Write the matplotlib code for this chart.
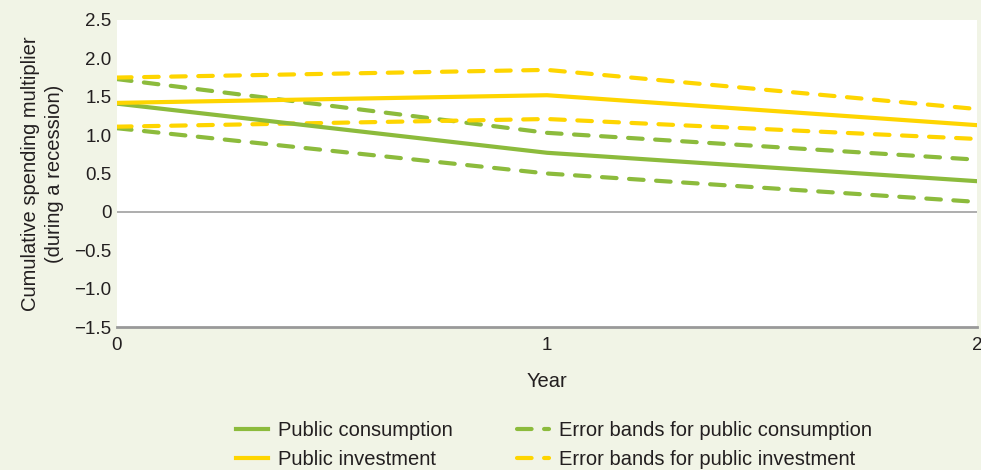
import matplotlib
matplotlib.use("Agg")
import matplotlib.pyplot as plt
import numpy as np

plt.rcParams['font.family'] = ['Liberation Sans', 'DejaVu Sans']

years = [0, 1, 2]
consumption = [1.41, 0.77, 0.40]
consumption_hi = [1.73, 1.03, 0.68]
consumption_lo = [1.09, 0.50, 0.13]
investment = [1.42, 1.52, 1.13]
investment_hi = [1.75, 1.85, 1.34]
investment_lo = [1.11, 1.21, 0.95]

yticks = [-1.5, -1.0, -0.5, 0, 0.5, 1.0, 1.5, 2.0, 2.5]
ytick_labels = ['\u22121.5', '\u22121.0', '\u22120.5', '0', '0.5', '1.0', '1.5', '2.0', '2.5']

GREEN = '#8cbb3c'
YELLOW = '#fed500'
BG = '#f1f4e6'
TEXT = '#231f20'

fig = plt.figure(figsize=(9.81, 4.70), dpi=100, facecolor=BG)
ax = fig.add_axes([117/981, 1 - 327/470, (977-117)/981, (327-20)/470])
ax.set_facecolor('white')

ax.axhline(0, color='#a0a0a0', lw=1.2, zorder=1)
ax.plot(years, consumption, color=GREEN, lw=3, label='Public consumption', zorder=3)
ax.plot(years, investment, color=YELLOW, lw=3, label='Public investment', zorder=3)
dash = (0, (3.5, 3))
ax.plot(years, consumption_hi, color=GREEN, lw=3, ls=dash, dash_capstyle='round',
        label='Error bands for public consumption', zorder=2)
ax.plot(years, consumption_lo, color=GREEN, lw=3, ls=dash, dash_capstyle='round', zorder=2)
ax.plot(years, investment_hi, color=YELLOW, lw=3, ls=dash, dash_capstyle='round',
        label='Error bands for public investment', zorder=2)
ax.plot(years, investment_lo, color=YELLOW, lw=3, ls=dash, dash_capstyle='round', zorder=2)

ax.set_xlim(0, 2)
ax.set_ylim(-1.5, 2.5)
ax.set_yticks(yticks)
ax.set_yticklabels(ytick_labels)
ax.set_xticks(years)
ax.set_xticklabels(['0', '1', '2'])
ax.tick_params(axis='both', length=0, labelsize=13.5, colors=TEXT)
ax.tick_params(axis='y', pad=4)
ax.tick_params(axis='x', pad=7)
for s in ['top', 'right', 'left']:
    ax.spines[s].set_visible(False)
ax.spines['bottom'].set_color('#999999')
ax.spines['bottom'].set_linewidth(2)

ax.set_xlabel('Year', fontsize=14.5, color=TEXT, labelpad=13)
ax.set_ylabel('Cumulative spending multiplier\n(during a recession)', fontsize=14.5,
              color=TEXT, labelpad=7, linespacing=1.35)

h, l = ax.get_legend_handles_labels()
leg = fig.legend(h, l, ncol=2, loc='center',
                 bbox_to_anchor=(554/981, 1 - 445/470), frameon=False, fontsize=14.5,
                 handlelength=1.6, columnspacing=3.2, labelspacing=0.5, handletextpad=0.5)
for t in leg.get_texts():
    t.set_color(TEXT)

fig.savefig('out.png', dpi=100, facecolor=BG)
